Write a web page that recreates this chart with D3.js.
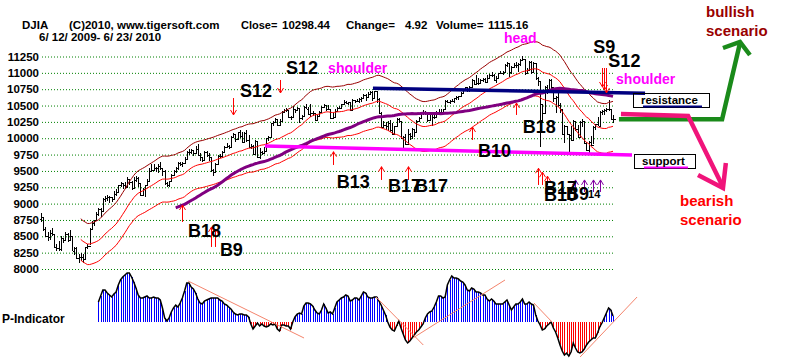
<!DOCTYPE html>
<html><head><meta charset="utf-8">
<script src="https://cdn.jsdelivr.net/npm/d3@7"></script>
<style>
html,body{margin:0;padding:0;background:#fff;}
svg{display:block;font-family:"Liberation Sans",Arial,sans-serif;}
</style></head><body>
<svg id="chart" width="800" height="358"></svg>
<script>
// ---------- DATA ----------
const symbol = "DJIA";
const dateRange = "6/ 12/ 2009- 6/ 23/ 2010";
const closeValue = "10298.44", changeValue = "4.92", volumeValue = "1115.16";

const priorCloses = [8284,8331,8268,8504,8475,8422,8292,8277,8473,8300,8403,8500,8721,8740,8675,8750,8764,8764,8763,8740,8770];

const closes = [8799,8612,8504,8497,8555,8539,8339,8323,8299,8472,8438,8529,8447,
8504,8280,8324,8163,8178,8183,8146,8332,8359,8616,8711,8743,8848,8915,8881,9069,9093,9108,9097,9070,9154,9171,
9286,9320,9280,9256,9370,9337,9241,9362,9398,9321,9135,9218,9279,9350,9505,9509,9539,9543,9580,9544,9496,
9310,9280,9344,9441,9497,9547,9627,9605,9626,9683,9791,9783,9820,9778,9829,9748,9707,9665,9789,9742,9712,
9509,9487,9599,9731,9725,9786,9864,9885,9871,10015,10062,9995,10092,10041,9949,10081,9972,9868,9882,9762,9962,9712,
9789,9771,9802,10005,10023,10226,10247,10291,10197,10270,10406,10437,10426,10332,10318,10450,10433,10464,10309,10345,
10471,10452,10366,10389,10390,10286,10337,10405,10471,10501,10452,10442,10308,10328,10414,10464,10466,10520,10547,10545,10548,10428,
10584,10573,10574,10607,10619,10663,10627,10680,10711,10610,10725,10604,10389,10173,10196,10194,10236,10121,10067,
10185,10297,10270,10003,10013,9908,10058,10038,10144,10099,10269,10309,10393,10403,10384,10283,10375,10321,10325,
10404,10406,10396,10444,10567,10553,10564,10568,10612,10625,10642,10686,10734,10779,10742,10786,10888,10836,10841,10851,10896,10907,10857,
10927,10974,10970,10898,10928,10997,11005,11019,11123,11145,11019,11092,11117,11125,11134,11204,11205,10991,11045,11168,11009,
11151,10926,10868,10520,10380,10785,10748,10897,10782,10620,10625,10510,10444,10068,10193,10067,10043,9975,10259,10137,
10025,10249,10256,9932,9816,9940,9899,10173,10212,10191,10405,10409,10434,10450,10443,10294,10298];

const highs = [8850,8800,8640,8570,8590,8620,8540,8390,8430,8500,8480,8560,8550,
8600,8500,8340,8330,8230,8250,8230,8340,8380,8630,8730,8750,8870,8930,8930,9090,9110,9130,9120,9100,9200,9230,
9290,9330,9320,9330,9410,9380,9340,9400,9420,9400,9320,9240,9290,9370,9540,9600,9600,9560,9600,9640,9540,
9520,9330,9350,9460,9510,9560,9640,9640,9640,9710,9800,9830,9840,9820,9880,9910,9770,9720,9810,9800,9780,
9710,9530,9620,9750,9760,9800,9880,9920,9900,10030,10080,10060,10100,10120,10090,10100,10120,10050,9910,9890,9970,9960,
9850,9810,9870,10010,10040,10230,10260,10310,10300,10300,10420,10450,10460,10430,10340,10500,10450,10480,10460,10360,
10490,10520,10480,10520,10410,10390,10350,10420,10500,10520,10510,10510,10440,10380,10440,10480,10490,10530,10580,10570,10560,10550,
10600,10590,10600,10620,10630,10680,10670,10710,10730,10720,10730,10720,10610,10400,10260,10250,10260,10280,10240,
10190,10310,10310,10270,10030,10060,10140,10080,10150,10140,10280,10320,10400,10430,10420,10390,10390,10380,10360,
10420,10450,10450,10450,10580,10580,10590,10600,10620,10640,10650,10700,10760,10790,10790,10800,10900,10890,10960,10920,10910,10920,10920,
10960,10990,11010,10980,10950,11000,11030,11030,11130,11160,11150,11100,11150,11160,11150,11210,11258,11210,11080,11180,11180,
11170,11150,10940,10880,10520,10800,10820,10900,10900,10780,10640,10710,10540,10440,10200,10190,10060,10180,10280,10260,
10200,10260,10290,10250,9950,9960,10030,10180,10220,10320,10410,10430,10440,10470,10590,10450,10350];

const lows = [8720,8580,8490,8430,8450,8510,8320,8280,8280,8270,8400,8430,8420,
8450,8270,8210,8150,8090,8120,8087,8140,8300,8360,8590,8660,8740,8810,8800,8870,9020,9040,9010,9030,9070,9110,
9170,9250,9230,9220,9260,9290,9210,9230,9330,9260,9110,9130,9100,9270,9350,9480,9500,9480,9470,9510,9430,
9290,9250,9260,9330,9440,9470,9520,9580,9560,9610,9680,9750,9760,9730,9770,9730,9650,9630,9660,9710,9650,
9490,9430,9470,9590,9700,9700,9770,9850,9830,9870,10000,9940,9980,10000,9930,9940,9950,9850,9830,9750,9760,9700,
9680,9740,9760,9800,9960,10020,10190,10230,10180,10190,10270,10380,10400,10310,10280,10320,10390,10420,10230,10280,
10340,10440,10350,10330,10340,10270,10260,10330,10400,10460,10420,10430,10290,10290,10330,10410,10440,10460,10510,10530,10510,10420,
10430,10540,10550,10540,10560,10620,10570,10620,10660,10570,10600,10540,10370,10150,10170,10120,10110,10100,10050,
10060,10180,10230,9990,9840,9890,9910,9980,9990,10020,10100,10260,10300,10360,10360,10250,10280,10180,10290,
10330,10390,10370,10380,10440,10540,10520,10550,10540,10590,10580,10640,10680,10720,10700,10700,10770,10820,10820,10820,10840,10860,10840,
10860,10900,10930,10870,10850,10920,10980,10960,11020,11090,10940,10980,11090,11080,11020,11110,11180,10970,10990,11050,10990,
11000,10890,10800,9870,10230,10380,10680,10740,10750,10550,10390,10480,10390,10050,9920,10050,9780,9960,9980,10110,
10010,10020,10170,9910,9810,9760,9880,9910,10120,10180,10190,10360,10360,10400,10420,10280,10240];

const pStart = 26;
const pIndicator = [20,26,32,32,29,27,25,28,30,37,42,45,47,49,49,45,40,34,27,24,
24,25,26,24,24,25,24,24,22,14,4,1,4,10,14,17,15,19,24,31,
39,39,35,33,29,23,19,18,21,22,23,24,24,24,24,22,21,18,17,15,
13,10,8,7,8,8,7,7,5,-2,-7,-4,-1,-4,-2,-4,-5,-4,-2,-3,
-2,-7,-9,-3,-3,-4,-4,-7,0,5,8,9,8,16,19,19,18,16,12,9,
8,12,18,14,9,10,8,14,20,22,24,25,27,26,21,22,24,24,22,26,
30,29,25,24,24,25,25,21,17,12,7,0,-5,-8,-9,-4,1,-6,-12,-18,
-21,-19,-16,-13,-10,-8,-5,-2,4,8,10,11,15,20,26,26,24,25,37,42,
46,44,44,43,41,40,37,32,31,34,33,30,30,29,27,27,23,21,23,21,
18,18,18,18,20,22,17,12,15,18,18,20,23,18,18,20,18,17,7,1,
-3,-8,-7,-4,-2,0,-6,-10,-16,-23,-29,-33,-31,-34,-30,-21,-26,-30,-31,-30,
-27,-23,-20,-18,-16,-16,-11,-5,-1,4,9,14,12,6];

const yTicks = [8000,8250,8500,8750,9000,9250,9500,9750,10000,10250,10500,10750,11000,11250];

// P-indicator trend lines [day, value] pairs
const pTrendLines = [[[66.6,41],[119.1,-16]],[[151.7,25],[173.1,-23]],[[168.4,-16],[210.1,42]],[[223.2,19],[231.4,0]],[[244.1,-35],[269.9,25]]];

// signal arrows [day, tipPrice, tailPrice]
const buyArrows = [[64,8979,8719],[77,8643,8337],[79,8612,8337],[132,9794,9591],[154,9565,9362],[166,9565,9362],[195,10172,9973],[215,10539,10356],[225,9541,9285],[227,9480,9285],[229,9420,9285]];
const purpleArrows = [[242,9362,9178],[246,9362,9178],[250,9362,9178],[253,9362,9178]];
const sellArrows = [[87,10356,10615],[108,10692,10891],[254,10784,11074],[255,10738,11074],[256,10692,11074]];

// signal labels [text, day, price]
const signalLabels = [["S12",110.9,10990],["S12",90.1,10631],["B13",133.9,9239],["B17",157.1,9178],["B17",169.3,9178],["B18",218.1,10080],["B10",197.9,9713],["B18",66.6,8490],["B9",81,8192],["S9",250.1,11299],["S12",256.9,11094],["B17",227.8,9148],["B10",227.8,9041],["B9",237.7,9056]];
const smallLabels = [["14",247.7,9087]];
const patternLabels = [["shoulder",130,10998],["head",209.6,11456],["shoulder",260.4,10830]];

const resistanceLine = [[150.3,10764],[273.5,10687]];
const supportLine = [[101.4,9882],[267.6,9744]];
const bullishPath = [[261.7,10290],[308.4,10290],[316.5,11456]];
const bullishHead = [[308.8,11380],[316.5,11472],[321,11273]];
const bearishPath = [[262.6,10371],[293,10340],[308.8,9255]];
const bearishHead = [[297.5,9438],[308.8,9239],[310.1,9622]];

// ---------- DRAW ----------
const svg = d3.select('#chart');
const FONT = '"Liberation Sans",Arial,sans-serif';
const x = d3.scaleLinear().domain([0, closes.length - 1]).range([41, 613]);
const y = d3.scaleLinear().domain([8000, 11250]).range([269, 56.5]);
const yP = d3.scaleLinear().domain([0, 50]).range([322, 272]);

// grid + y axis
const axis = d3.axisLeft(y).tickValues(yTicks).tickSize(-573).tickPadding(3).tickFormat(d3.format('d'));
const gA = svg.append('g').attr('transform', 'translate(42,0)').call(axis);
gA.select('.domain').remove();
gA.selectAll('.tick line').attr('stroke', '#008000').attr('stroke-dasharray', '1,2');
gA.selectAll('.tick text').attr('fill', '#000').attr('font-size', 11.5).attr('font-weight', 'bold').attr('font-family', FONT);

// P-indicator
const pData = pIndicator.map((v, k) => ({i: pStart + k, v}));
svg.append('g').attr('shape-rendering', 'crispEdges').selectAll('line').data(pData).join('line')
  .attr('x1', d => Math.round(x(d.i)) + 0.5).attr('x2', d => Math.round(x(d.i)) + 0.5)
  .attr('y1', yP(0)).attr('y2', d => yP(d.v))
  .attr('stroke', d => d.v >= 0 ? '#0000ff' : '#ff0000').attr('stroke-width', 1);
svg.append('path').datum(pData).attr('fill', 'none').attr('stroke', '#000').attr('stroke-width', 1.5)
  .attr('d', d3.line().x(d => x(d.i)).y(d => yP(d.v)));
svg.append('g').selectAll('line').data(pTrendLines).join('line')
  .attr('x1', d => x(d[0][0])).attr('y1', d => yP(d[0][1]))
  .attr('x2', d => x(d[1][0])).attr('y2', d => yP(d[1][1]))
  .attr('stroke', '#f4846c').attr('stroke-width', 1);
svg.append('text').attr('x', 2).attr('y', 323).text('P-Indicator')
  .attr('font-size', 12).attr('font-weight', 'bold').attr('font-family', FONT).attr('fill', '#000');

// price bars
const bars = closes.map((c, i) => ({i, c, h: highs[i], l: lows[i], o: i > 0 ? closes[i - 1] : priorCloses[priorCloses.length - 1]}));
const gB = svg.append('g').attr('stroke', '#000').attr('stroke-width', 1).attr('shape-rendering', 'crispEdges');
gB.selectAll('line.hl').data(bars).join('line').attr('class', 'hl')
  .attr('x1', d => Math.round(x(d.i)) + 0.5).attr('x2', d => Math.round(x(d.i)) + 0.5)
  .attr('y1', d => y(d.h)).attr('y2', d => y(d.l));
gB.selectAll('line.cl').data(bars).join('line').attr('class', 'cl')
  .attr('x1', d => Math.round(x(d.i)) + 0.5).attr('x2', d => Math.round(x(d.i)) + 2.5)
  .attr('y1', d => Math.round(y(d.c)) + 0.5).attr('y2', d => Math.round(y(d.c)) + 0.5);
gB.selectAll('line.op').data(bars).join('line').attr('class', 'op')
  .attr('x1', d => Math.round(x(d.i)) - 1.5).attr('x2', d => Math.round(x(d.i)) + 0.5)
  .attr('y1', d => Math.round(y(d.o)) + 0.5).attr('y2', d => Math.round(y(d.o)) + 0.5);

// moving averages derived from closes
const all = priorCloses.concat(closes), off = priorCloses.length;
const sma = (n, i) => d3.mean(all.slice(off + i - n + 1, off + i + 1));
const ma21 = d3.range(18, closes.length).map(i => ({i, v: sma(21, i)}));
const ma65 = d3.range(61, closes.length).map(i => ({i, v: sma(65, i)}));
const band = 0.0375;
const lineMA = k => d3.line().x(d => x(d.i)).y(d => y(d.v * k));
svg.append('path').datum(ma21).attr('fill', 'none').attr('stroke', '#990000').attr('stroke-width', 1).attr('d', lineMA(1 + band));
svg.append('path').datum(ma21).attr('fill', 'none').attr('stroke', '#ff0000').attr('stroke-width', 1).attr('d', lineMA(1));
svg.append('path').datum(ma21).attr('fill', 'none').attr('stroke', '#ff0000').attr('stroke-width', 1).attr('d', lineMA(1 - band));
svg.append('path').datum(ma65).attr('fill', 'none').attr('stroke', '#800080').attr('stroke-width', 3).attr('d', lineMA(1));

// support / resistance
const pl = d3.line().x(d => x(d[0])).y(d => y(d[1]));
svg.append('path').datum(supportLine).attr('fill', 'none').attr('stroke', '#ff00ff').attr('stroke-width', 3.5).attr('d', pl);
svg.append('path').datum(resistanceLine).attr('fill', 'none').attr('stroke', '#000080').attr('stroke-width', 3.5).attr('d', pl);

// arrows
function arrows(data, color, up) {
  const g = svg.append('g').attr('stroke', color).attr('stroke-width', 1).attr('fill', 'none');
  data.forEach(([i, tip, tail]) => {
    const xx = Math.round(x(i)) + 0.5, yt = y(tip), yl = y(tail);
    const s = up ? 5 : -5;
    g.append('line').attr('x1', xx).attr('x2', xx).attr('y1', yt).attr('y2', yl);
    g.append('path').attr('d', `M${xx - 3},${yt + s}L${xx},${yt}L${xx + 3},${yt + s}`);
  });
}
arrows(buyArrows, '#ff0000', true);
arrows(purpleArrows, '#8000a0', true);
arrows(sellArrows, '#ff0000', false);

// labels
svg.append('g').selectAll('text').data(signalLabels).join('text')
  .attr('x', d => x(d[1])).attr('y', d => y(d[2])).text(d => d[0])
  .attr('font-size', 18).attr('font-weight', 'bold').attr('font-family', FONT).attr('fill', '#000');
svg.append('g').selectAll('text').data(smallLabels).join('text')
  .attr('x', d => x(d[1])).attr('y', d => y(d[2])).text(d => d[0])
  .attr('font-size', 11).attr('font-weight', 'bold').attr('font-family', FONT).attr('fill', '#000');
svg.append('g').selectAll('text').data(patternLabels).join('text')
  .attr('x', d => x(d[1])).attr('y', d => y(d[2])).text(d => d[0])
  .attr('font-size', 14).attr('font-weight', 'bold').attr('font-family', FONT).attr('fill', '#ff00ff');

// resistance / support boxes
function box(bx, by, bw, bh, label, ulColor, ulW) {
  svg.append('rect').attr('x', bx + 0.5).attr('y', by + 0.5).attr('width', bw).attr('height', bh)
    .attr('fill', 'none').attr('stroke', '#000').attr('stroke-width', 1);
  svg.append('rect').attr('x', bx + 10).attr('y', by + bh - 1.5).attr('width', ulW).attr('height', 2).attr('fill', ulColor);
  svg.append('text').attr('x', bx + 8).attr('y', by + 11).text(label)
    .attr('font-size', 11.5).attr('font-weight', 'bold').attr('font-family', FONT).attr('fill', '#000');
}
box(633, 93, 76, 14, 'resistance', '#000080', 59);
box(634, 154, 61, 14, 'support', '#ff00ff', 44);

// scenario arrows
svg.append('path').datum(bullishPath).attr('fill', 'none').attr('stroke', '#1a8a1a').attr('stroke-width', 4.5).attr('stroke-linejoin', 'miter').attr('d', pl);
svg.append('path').datum(bullishHead).attr('fill', 'none').attr('stroke', '#1a8a1a').attr('stroke-width', 4.5).attr('d', pl);
svg.append('path').datum(bearishPath).attr('fill', 'none').attr('stroke', '#f0147a').attr('stroke-width', 4.5).attr('d', pl);
svg.append('path').datum(bearishHead).attr('fill', 'none').attr('stroke', '#f0147a').attr('stroke-width', 4.5).attr('d', pl);

function txt(tx, ty, s, size, color) {
  svg.append('text').attr('x', tx).attr('y', ty).text(s).attr('font-size', size)
    .attr('font-weight', 'bold').attr('font-family', FONT).attr('fill', color);
}
txt(706, 17, 'bullish', 15, '#990000');
txt(706, 36, 'scenario', 15, '#990000');
txt(680, 206, 'bearish', 15, '#ff0000');
txt(680, 225, 'scenario', 15, '#ff0000');

// header
txt(22, 28.5, symbol, 11.5, '#000');
txt(69, 28.5, '(C)2010, www.tigersoft.com', 11.5, '#000');
txt(241, 28.5, 'Close=', 11, '#000');
txt(282, 28.5, closeValue, 11.5, '#000');
txt(346, 28.5, 'Change=', 11.5, '#000');
txt(405, 28.5, changeValue, 11.5, '#000');
txt(436, 28.5, 'Volume=', 11.5, '#000');
txt(488, 28.5, volumeValue, 11.5, '#000');
txt(39, 40.5, dateRange, 11.5, '#000');
</script>
</body></html>
